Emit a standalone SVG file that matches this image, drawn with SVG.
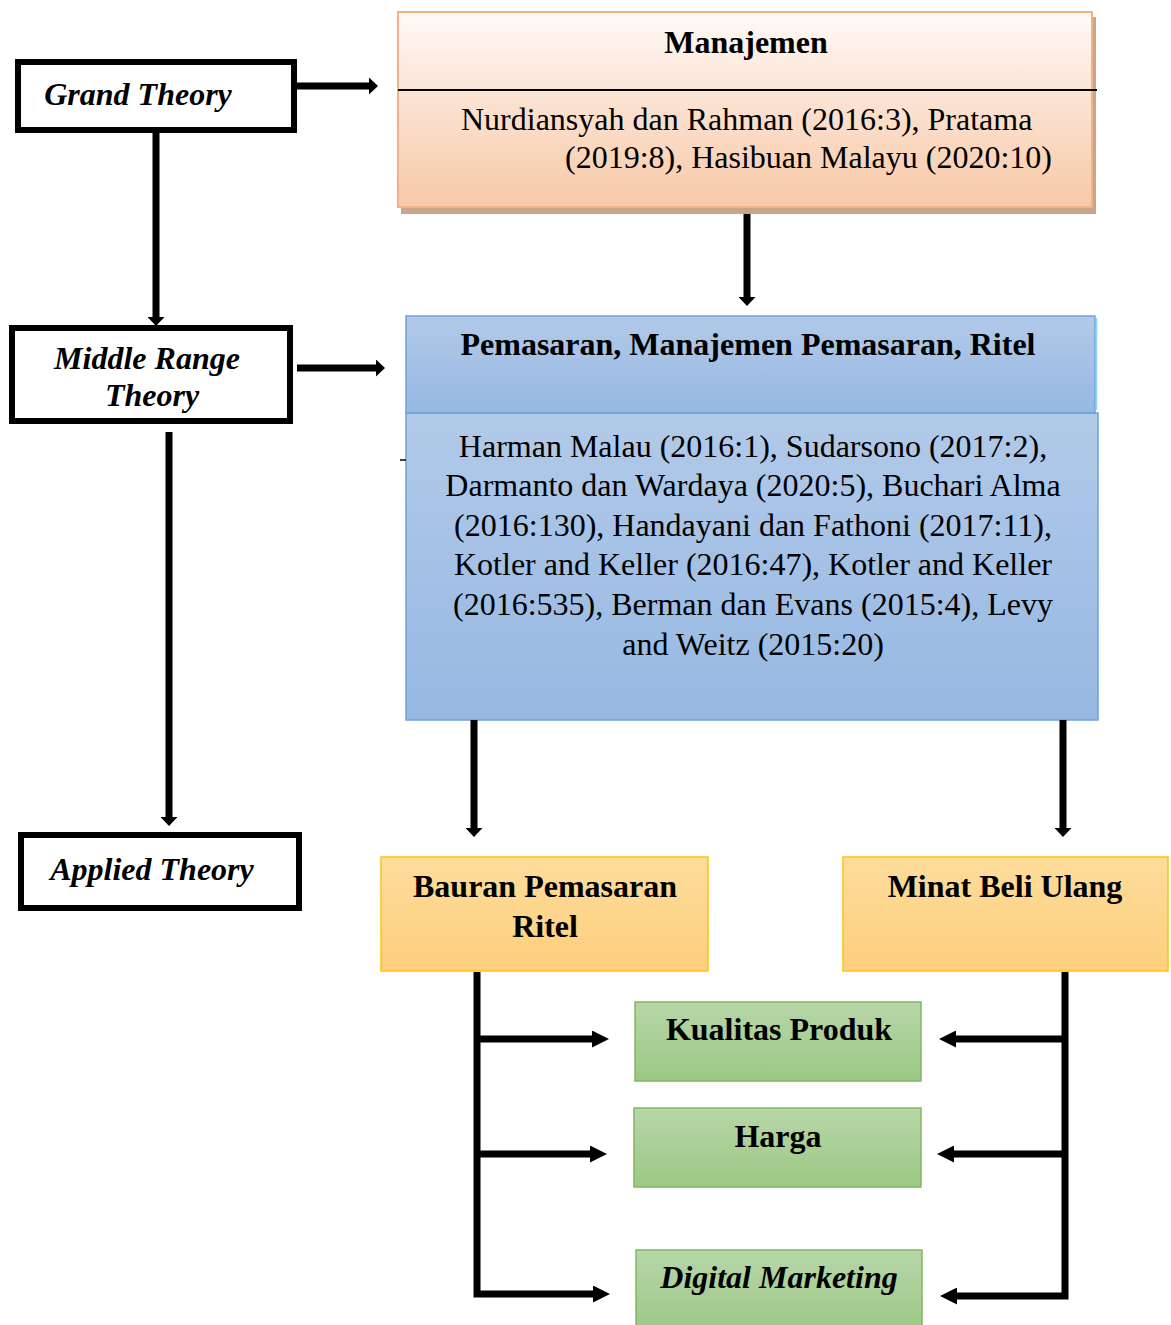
<svg xmlns="http://www.w3.org/2000/svg" width="1171" height="1325" viewBox="0 0 1171 1325">
<style>
.t{font-family:"Liberation Serif","Times New Roman",serif;font-size:32px;fill:#000}
.b{font-weight:bold}
.i{font-style:italic}
.m{text-anchor:middle}
.theory{fill:#fff;stroke:#000;stroke-width:6}
.con{fill:none;stroke:#000;stroke-width:7}
</style>
<defs>
<linearGradient id="gOr" x1="0" y1="0" x2="0" y2="1"><stop offset="0" stop-color="#fffaf7"/><stop offset="0.4" stop-color="#fce5d6"/><stop offset="1" stop-color="#f8c9a7"/></linearGradient>
<linearGradient id="gBl" x1="0" y1="0" x2="0" y2="1"><stop offset="0" stop-color="#b2cae9"/><stop offset="1" stop-color="#96b8e2"/></linearGradient>
<linearGradient id="gGo" x1="0" y1="0" x2="0" y2="1"><stop offset="0" stop-color="#fedc9b"/><stop offset="1" stop-color="#fdcf7e"/></linearGradient>
<linearGradient id="gGr" x1="0" y1="0" x2="0" y2="1"><stop offset="0" stop-color="#b7d6a8"/><stop offset="1" stop-color="#9cc884"/></linearGradient>
<marker id="aS" markerUnits="userSpaceOnUse" viewBox="0 0 9 17" markerWidth="9" markerHeight="17" refX="0" refY="8.5" orient="auto"><path d="M0,0 L9,8.5 L0,17 Z" fill="#000"/></marker>
<marker id="aL" markerUnits="userSpaceOnUse" viewBox="0 0 17 17" markerWidth="17" markerHeight="17" refX="0" refY="8.5" orient="auto"><path d="M0,0 L17,8.5 L0,17 Z" fill="#000"/></marker>
</defs>

<g id="grand-theory">
<rect class="theory" x="18" y="62" width="276" height="68"/>
<text class="t b i m" x="138" y="105">Grand Theory</text>
</g>

<g id="middle-range-theory">
<rect class="theory" x="12" y="328" width="278" height="93"/>
<text class="t b i m" x="147" y="369">Middle Range</text>
<text class="t b i m" x="152" y="406">Theory</text>
</g>

<g id="applied-theory">
<rect class="theory" x="21" y="835" width="278" height="73"/>
<text class="t b i m" x="152" y="880">Applied Theory</text>
</g>

<g id="manajemen">
<rect x="401" y="17" width="695" height="197" fill="#c9a68b"/>
<rect x="398" y="12" width="694" height="195" fill="url(#gOr)" stroke="#f4b183" stroke-width="2"/>
<line x1="398" y1="90" x2="1097" y2="90" stroke="#000" stroke-width="2"/>
<text class="t b m" x="746" y="53">Manajemen</text>
<text class="t" x="461" y="130">Nurdiansyah dan Rahman (2016:3), Pratama</text>
<text class="t" x="565" y="168">(2019:8), Hasibuan Malayu (2020:10)</text>
</g>

<g id="pemasaran">
<rect x="406" y="413" width="692" height="307" fill="url(#gBl)" stroke="#6fa1da" stroke-width="1.5"/>
<rect x="406" y="316" width="689" height="97" fill="url(#gBl)" stroke="#6fa1da" stroke-width="1.5"/>
<line x1="1096.5" y1="318" x2="1096.5" y2="410" stroke="#8fd4f2" stroke-width="1.5"/>
<line x1="400" y1="460" x2="406" y2="460" stroke="#000" stroke-width="1.5"/>
<text class="t b m" x="748" y="355">Pemasaran, Manajemen Pemasaran, Ritel</text>
<text class="t m" x="753" y="457">Harman Malau (2016:1), Sudarsono (2017:2),</text>
<text class="t m" x="753" y="496">Darmanto dan Wardaya (2020:5), Buchari Alma</text>
<text class="t m" x="753" y="536">(2016:130), Handayani dan Fathoni (2017:11),</text>
<text class="t m" x="753" y="575">Kotler and Keller (2016:47), Kotler and Keller</text>
<text class="t m" x="753" y="615">(2016:535), Berman dan Evans (2015:4), Levy</text>
<text class="t m" x="753" y="655">and Weitz (2015:20)</text>
</g>

<g id="bauran">
<rect x="381" y="857" width="327" height="114" fill="url(#gGo)" stroke="#ffc20e" stroke-width="1.5"/>
<text class="t b m" x="545" y="897">Bauran Pemasaran</text>
<text class="t b m" x="545" y="937">Ritel</text>
</g>

<g id="minat">
<rect x="843" y="857" width="325" height="114" fill="url(#gGo)" stroke="#ffc20e" stroke-width="1.5"/>
<text class="t b m" x="1005" y="897">Minat Beli Ulang</text>
</g>

<g id="kualitas">
<rect x="635" y="1002" width="286" height="79" fill="url(#gGr)" stroke="#80b862" stroke-width="1.5"/>
<text class="t b m" x="779" y="1040">Kualitas Produk</text>
</g>

<g id="harga">
<rect x="634" y="1108" width="287" height="79" fill="url(#gGr)" stroke="#80b862" stroke-width="1.5"/>
<text class="t b m" x="778" y="1147">Harga</text>
</g>

<g id="digital">
<rect x="636" y="1250" width="286" height="85" fill="url(#gGr)" stroke="#80b862" stroke-width="1.5"/>
<text class="t b i m" x="779" y="1288">Digital Marketing</text>
</g>

<g id="connectors">
<path class="con" d="M297,86 H369" marker-end="url(#aS)"/>
<path class="con" d="M297,368 H376" marker-end="url(#aS)"/>
<path class="con" d="M156,133 V317" marker-end="url(#aS)"/>
<path class="con" d="M169,432 V817" marker-end="url(#aS)"/>
<path class="con" d="M747,214 V297" marker-end="url(#aS)"/>
<path class="con" d="M474,720 V828" marker-end="url(#aS)"/>
<path class="con" d="M1063,720 V828" marker-end="url(#aS)"/>
<path class="con" d="M477,972 V1294 H593" marker-end="url(#aL)"/>
<path class="con" d="M477,1039 H592" marker-end="url(#aL)"/>
<path class="con" d="M477,1154 H590" marker-end="url(#aL)"/>
<path class="con" d="M1065,972 V1296 H957" marker-end="url(#aL)"/>
<path class="con" d="M1065,1039 H956" marker-end="url(#aL)"/>
<path class="con" d="M1065,1154 H954" marker-end="url(#aL)"/>
</g>
</svg>
